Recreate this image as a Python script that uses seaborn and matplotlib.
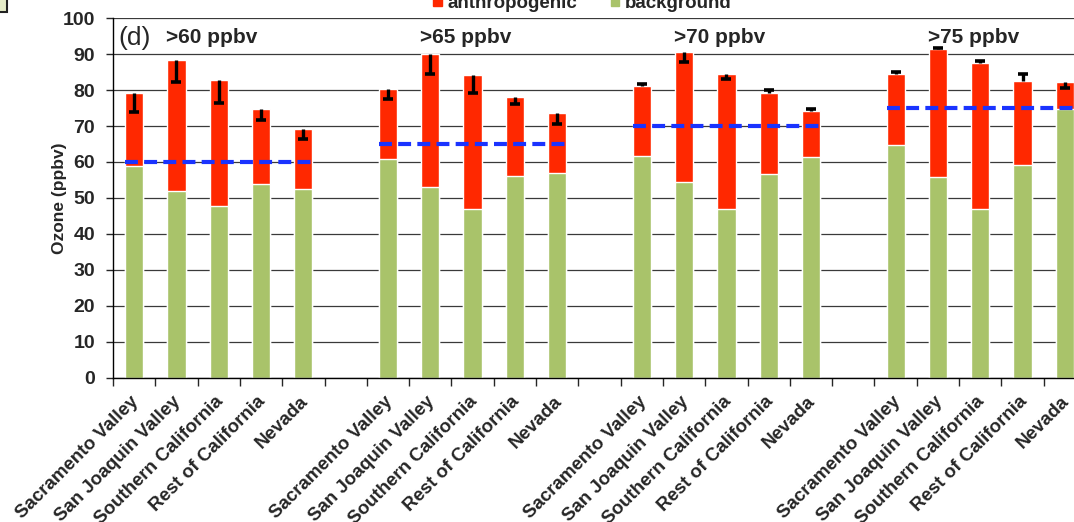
import numpy as np
import pandas as pd
import seaborn as sns
import matplotlib
matplotlib.use('Agg')  # no display in the sandbox
import matplotlib.pyplot as plt
from matplotlib.patches import Patch, Rectangle
from matplotlib.transforms import ScaledTranslation

# ---- data ----
regions = ["Sacramento Valley", "San Joaquin Valley", "Southern California",
           "Rest of California", "Nevada"]
thresholds = [60, 65, 70, 75]

# total ozone (top of the red bar) per threshold group
total = [
    [79.2, 88.3, 82.8, 74.7, 69.2],
    [80.2, 90.0, 84.1, 78.1, 73.6],
    [81.1, 90.6, 84.4, 79.3, 74.3],
    [84.4, 91.3, 87.4, 82.4, 82.1],
]
# background part (top of the green bar)
background = [
    [58.9, 52.0, 47.8, 54.0, 52.6],
    [60.8, 53.1, 47.0, 56.2, 56.9],
    [61.8, 54.5, 47.0, 56.6, 61.5],
    [64.7, 55.8, 47.0, 59.2, 74.8],
]
# error bars, below / above the top of the bar
err_minus = [
    [5.3, 6.0, 6.4, 3.0, 2.8],
    [2.8, 5.6, 4.8, 2.1, 3.0],
    [0.0, 2.7, 1.4, 0.0, 0.0],
    [0.0, 0.0, 0.0, 0.0, 1.6],
]
err_plus = [
    [0.0, 0.0, 0.0, 0.0, 0.0],
    [0.0, 0.0, 0.0, 0.0, 0.0],
    [0.7, 0.0, 0.0, 0.7, 0.4],
    [0.7, 0.4, 0.7, 2.0, 0.0],
]

RED = '#ff2800'
GREEN = '#a9c36a'
BLUE = '#1a33ff'
BAR_W = 0.43

# one slot per bar, empty slot between the threshold groups
rows = []
for g, thr in enumerate(thresholds):
    for i, reg in enumerate(regions):
        rows.append({'slot': g * 6 + i, 'region': reg, 'threshold': thr,
                     'total': total[g][i], 'background': background[g][i],
                     'minus': err_minus[g][i], 'plus': err_plus[g][i]})
df = pd.DataFrame(rows)
n_slots = len(thresholds) * 6 - 1
slots = list(range(n_slots))

sns.set_style('white')
plt.rcParams['font.family'] = ['Liberation Sans', 'DejaVu Sans']

fig = plt.figure(figsize=(10.74, 5.22), dpi=100)
ax = fig.add_axes([0.1052, 0.2759, 0.906, 0.6896])

# stacked bars: red total first, green background on top of it
sns.barplot(data=df, x='slot', y='total', order=slots, color=RED,
            width=BAR_W, saturation=1, errorbar=None, ax=ax, zorder=2)
sns.barplot(data=df, x='slot', y='background', order=slots, color=GREEN,
            width=BAR_W, saturation=1, errorbar=None, ax=ax, zorder=2)

# one-sided error bars with a cap at the far end
lo = df['total'] - df['minus']
hi = df['total'] + df['plus']
ax.vlines(df['slot'], lo, hi, color='black', lw=2.4, zorder=4)
cap_y = np.where(df['minus'] > 0, lo, hi)
ax.plot(df['slot'], cap_y, ls='none', marker='_', ms=6.5, mew=2.6,
        color='black', zorder=4)

# threshold lines and group labels
for g, thr in enumerate(thresholds):
    ax.hlines(thr, g * 6 - BAR_W / 2, g * 6 + 4 + BAR_W / 2, color=BLUE,
              lw=3, linestyles=(0, (3.1, 1.5)), zorder=5)
    ax.text(g * 6 + 1 - 0.24, 93, f'>{thr} ppbv', ha='left', va='baseline',
            fontsize=15, fontweight='bold')
ax.text(-0.38, 92.6, '(d)', ha='left', va='baseline', fontsize=19)

# axes
ax.set_xlim(-0.5, n_slots - 0.5)
ax.set_ylim(0, 100)
ax.set_yticks(range(0, 101, 10))
ax.yaxis.grid(True, color='#3a3a3a', lw=0.9)
ax.set_axisbelow(True)
ax.tick_params(axis='y', labelsize=14, length=5, width=1, pad=8,
               direction='out', left=True)
for lab in ax.get_yticklabels():
    lab.set_fontweight('bold')

labels = [df.set_index('slot')['region'].get(s, '') for s in slots]
ax.set_xticks(slots)
ax.set_xticklabels(labels, rotation=45, ha='right', rotation_mode='anchor',
                   fontsize=13.5, fontweight='bold')
ax.tick_params(axis='x', which='major', length=0, pad=11)
# labels end a little left of the bar centre
shift = ScaledTranslation(-3 / 72, 0, fig.dpi_scale_trans)
for lab in ax.get_xticklabels():
    lab.set_transform(lab.get_transform() + shift)
ax.set_xticks(np.arange(-0.5, n_slots, 1), minor=True)
ax.tick_params(axis='x', which='minor', length=6, width=1, direction='out',
               bottom=True)
ax.set_xlabel('')
ax.set_ylabel('Ozone (ppbv)', fontsize=12.5, fontweight='bold')
ax.yaxis.set_label_coords(-0.047, 0.5)

for side in ['top', 'right']:
    ax.spines[side].set_visible(False)
for side in ['left', 'bottom']:
    ax.spines[side].set_color('black')
    ax.spines[side].set_linewidth(1)

# legend, cut by the top edge like in the original
handles = [Patch(color=RED, label='anthropogenic'),
           Patch(color=GREEN, label='background')]
fig.legend(handles=handles, loc='center', bbox_to_anchor=(0.5424, 0.994),
           ncol=2, frameon=False, prop={'size': 13.5, 'weight': 'bold'},
           handlelength=0.45, handleheight=0.5, handletextpad=0.3,
           columnspacing=1.8)

# corner of the neighbouring panel
fig.patches.append(Rectangle((-0.01, 1 - 12 / 522), 0.01 + 7 / 1074, 0.05,
                             transform=fig.transFigure, facecolor='#e6edc8',
                             edgecolor='#222222', lw=1.5))

fig.savefig('out.png', dpi=100)
